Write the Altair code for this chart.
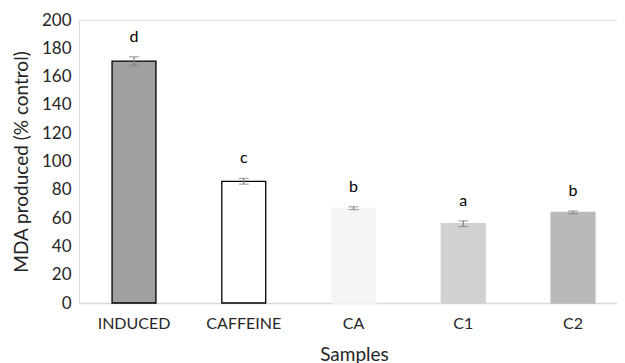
import altair as alt
import pandas as pd

samples = ["INDUCED", "CAFFEINE", "CA", "C1", "C2"]
values = [171, 86, 67, 56, 64]
errors = [3, 2, 1, 2, 1]
letters = ["d", "c", "b", "a", "b"]
fills = ["#a0a0a0", "#ffffff", "#f4f5f4", "#d0d1d0", "#b9b9b9"]
strokes = ["#000000", "#000000", "#f4f5f4", "#d0d1d0", "#b9b9b9"]
y_ticks = [0, 20, 40, 60, 80, 100, 120, 140, 160, 180, 200]

df = pd.DataFrame({
    "sample": samples,
    "value": values,
    "lo": [v - e for v, e in zip(values, errors)],
    "hi": [v + e for v, e in zip(values, errors)],
    "letter": letters,
    "fill": fills,
    "stroke": strokes,
})

FONT = "Lato"
TXT = "#262626"

x_axis = alt.Axis(labelAngle=0, labelFontSize=16, labelColor=TXT,
                  labelFont=FONT, titleFont=FONT, titleFontSize=19,
                  titleFontWeight="normal", titleColor=TXT,
                  titlePadding=14, labelPadding=12, titleX=275, titleAlign="center",
                  domainColor="#d9d9d9", domainWidth=1.5, ticks=False)
x_scale = alt.Scale(paddingInner=0.6, paddingOuter=0.251, align=0.6)
x = alt.X("sample:N", sort=samples, title="Samples", scale=x_scale, axis=x_axis)

y_scale = alt.Scale(domain=[0, 200])
y_axis = alt.Axis(values=y_ticks, grid=False, domain=False,
                  ticks=False, labelFontSize=17, labelColor=TXT,
                  labelFont=FONT, titleFont=FONT, titleFontSize=19,
                  titleFontWeight="normal", titleColor=TXT,
                  labelOverlap=False, labelPadding=8, titlePadding=10)
YT = "MDA produced (% control)"

bars = alt.Chart(df).mark_bar(strokeWidth=1.3).encode(
    x=x,
    y=alt.Y("value:Q", scale=y_scale, title=YT, axis=y_axis),
    fill=alt.Fill("fill:N", scale=None),
    stroke=alt.Stroke("stroke:N", scale=None),
)

err = alt.Chart(df).mark_rule(color="#808080", strokeWidth=1.2).encode(
    x=x,
    y=alt.Y("lo:Q", scale=y_scale, title=YT, axis=y_axis),
    y2="hi:Q",
)

cap_hi = alt.Chart(df).mark_tick(color="#808080", thickness=1.2, size=10, orient="horizontal").encode(
    x=x,
    y=alt.Y("hi:Q", scale=y_scale, title=YT, axis=y_axis),
)
cap_lo = alt.Chart(df).mark_tick(color="#808080", thickness=1.2, size=10, orient="horizontal").encode(
    x=x,
    y=alt.Y("lo:Q", scale=y_scale, title=YT, axis=y_axis),
)

text = alt.Chart(df).mark_text(font=FONT, fontSize=16, fontWeight="normal", color="#000000",
                               dy=-20, baseline="middle").encode(
    x=x,
    y=alt.Y("hi:Q", scale=y_scale, title=YT, axis=y_axis),
    text="letter:N",
)

chart = alt.layer(bars, err, cap_hi, cap_lo, text).properties(
    width=538, height=283, padding={"left": 4, "top": 3, "right": 0, "bottom": 0}
).configure_view(stroke=None).configure(background="white")

chart.save("out.html", embed_options={"renderer": "svg", "actions": False})
